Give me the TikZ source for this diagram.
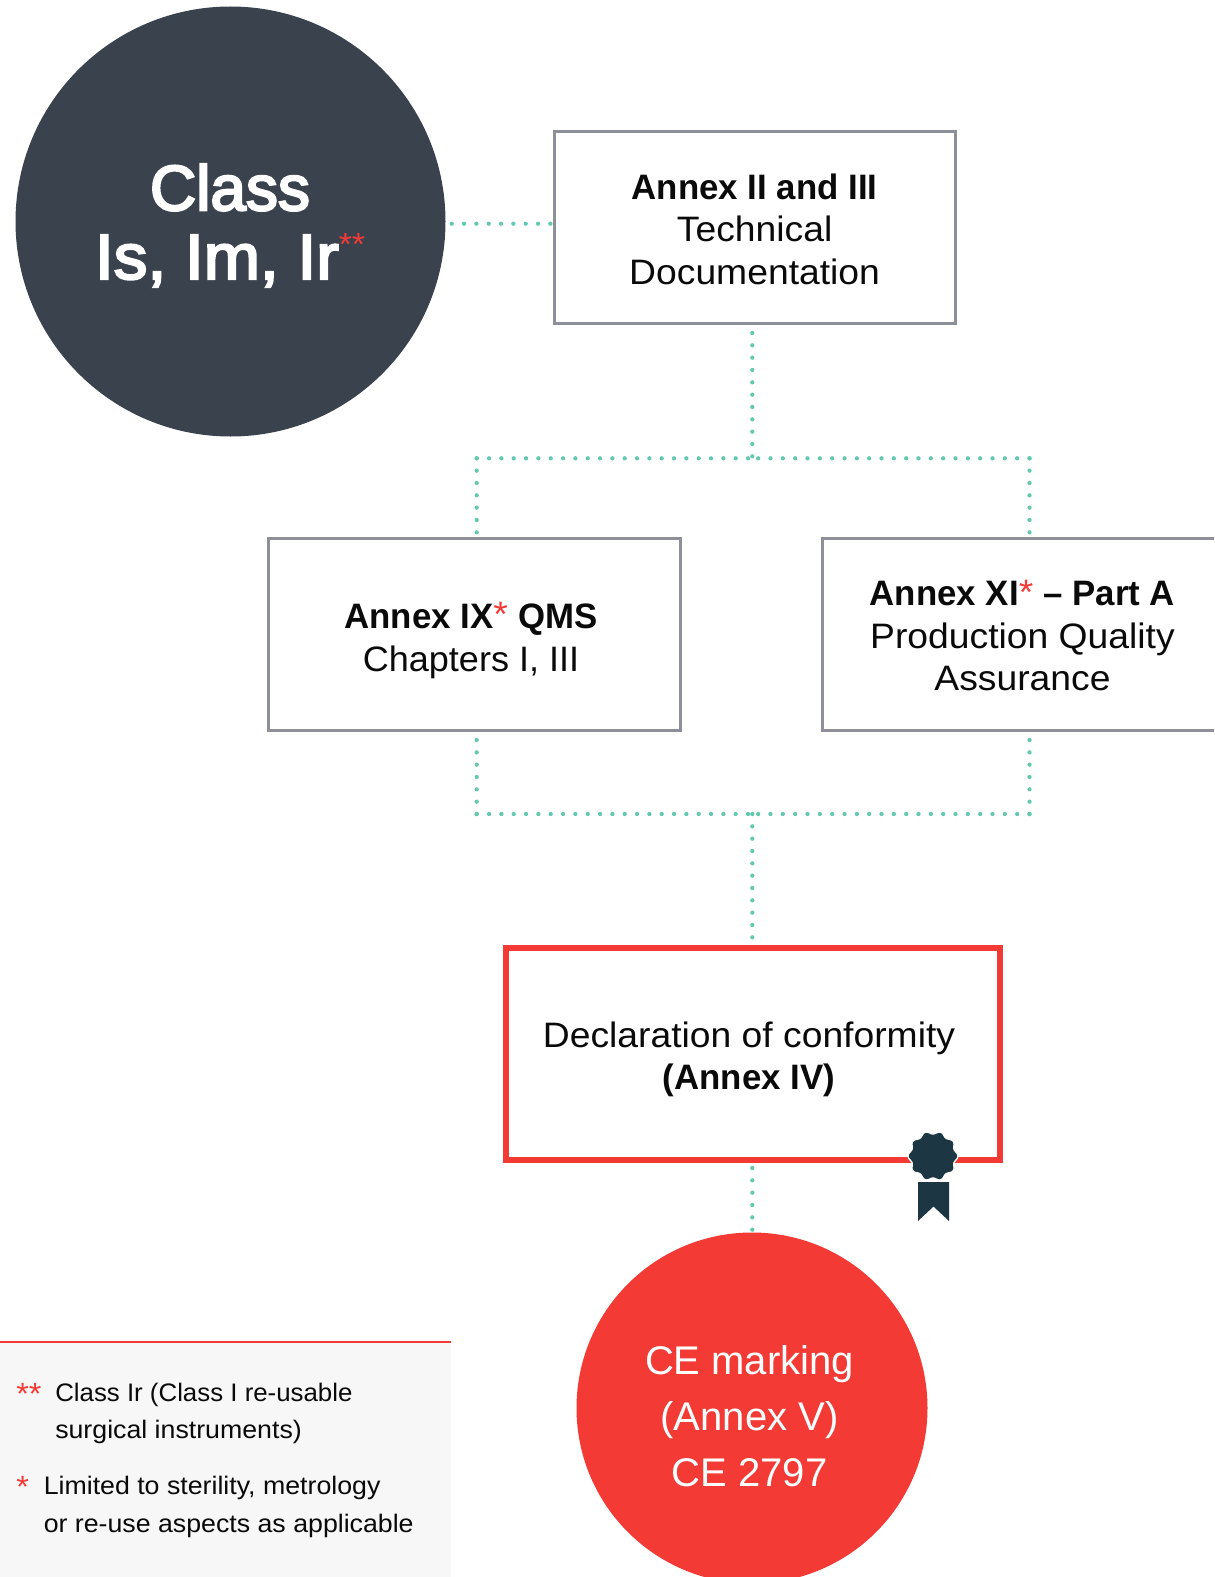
\documentclass[tikz,border=0pt]{standalone}
\usepackage{fontspec}
\setmainfont[FakeStretch=1.055,BoldFeatures={FakeStretch=0.985}]{Liberation Sans}
\newfontfamily\medfont[FakeBold=3.5]{Liberation Sans}
\newfontfamily\medfontw[FakeBold=3.5,FakeStretch=1.055]{Liberation Sans}
\newfontfamily\cefont[FakeStretch=1.0]{Liberation Sans}
\newfontfamily\narrowf[FakeStretch=1.02]{Liberation Sans}
\usetikzlibrary{calc}
\definecolor{slate}{HTML}{3A424E}
\definecolor{seal}{HTML}{1C3644}
\definecolor{cered}{HTML}{F33A35}
\definecolor{boxgray}{HTML}{8E9099}
\definecolor{dotgreen}{HTML}{62C9B0}
\definecolor{notebg}{HTML}{F7F7F7}
\definecolor{ink}{HTML}{0A0A0A}
\newcommand{\fsz}[2]{\fontsize{#1}{#2}\selectfont}
\newcommand{\redast}[1]{\textcolor{cered}{\raisebox{.05em}{#1}}}
\tikzset{
  x=0.75pt,y=-0.75pt,
  boxnode/.style={draw=boxgray,line width=2.25pt,fill=white,inner sep=0pt,outer sep=0pt,minimum width=#1*0.75pt},
  txt/.style={text=ink,align=center,inner sep=0pt,font=\fsz{26.5}{31.9}},
  note/.style={text=ink,align=left,inner sep=0pt,font=\fsz{19}{28}},
  notemark/.style={text=cered,inner sep=0pt,anchor=west,font=\fsz{23}{23}},
  dotline/.style={draw=dotgreen,line width=3.2pt,line cap=round,dash pattern=on 0pt off 9.25pt},
}
\begin{document}
\begin{tikzpicture}
\useasboundingbox (0,0) rectangle (1214,1577);
\clip (0,0) rectangle (1214,1577);
\fill[white] (0,0) rectangle (1214,1577);

% note panel
\fill[notebg] (0,1342) rectangle (451,1577);
\draw[cered,line width=0.9pt] (0,1342) -- (451,1342);

% shapes
\node[circle,fill=slate,inner sep=0pt,outer sep=0pt,minimum size=430*0.75pt] (classc) at (230.5,221.5) {};
\node[boxnode=401,minimum height=192.5*0.75pt] (box1) at (754.5,227.25) {};
\node[boxnode=412,minimum height=192*0.75pt] (box2) at (474,634) {};
\node[boxnode=500,minimum height=192*0.75pt] (box3) at (1072,634) {};
\node[draw=cered,line width=3.8pt,fill=white,inner sep=0pt,outer sep=0pt,minimum width=494*0.75pt,minimum height=212*0.75pt] (decl) at (753,1054) {};
\node[circle,fill=cered,inner sep=0pt,outer sep=0pt,minimum size=351*0.75pt] (ce) at (752,1408) {};

% junctions
\coordinate (jtop) at (752.3,458.3);
\coordinate (jtl) at (476.7,458.3);
\coordinate (jtr) at (1029.5,458.3);
\coordinate (jbot) at (752.3,814);
\coordinate (jbl) at (476.7,814);
\coordinate (jbr) at (1029.5,814);
\coordinate (s1) at (752.3,333);
\coordinate (s2) at (752.3,943);
\coordinate (s3) at (752.3,1168);
\coordinate (s4) at (752.3,1232);
\coordinate (a1) at (451.7,223.7);
\coordinate (a2) at (553,223.7);
\coordinate (l1) at (476.7,534);
\coordinate (r1) at (1029.5,537);
\coordinate (l2) at (476.7,734);
\coordinate (r2) at (1029.5,738);

% connectors
\draw[dotline] (a1) -- (a2);
\draw[dotline] (s1) -- (jtop);
\draw[dotline] (jtl) -- (jtop);
\draw[dotline] (jtl) -- (l1);
\draw[dotline] (jtr) -- (jtop);
\draw[dotline] (jtr) -- (r1);
\draw[dotline] (jbl) -- (l2);
\draw[dotline] (jbl) -- (jbot);
\draw[dotline] (jbr) -- (r2);
\draw[dotline] (jbr) -- (jbot);
\draw[dotline] (jbot) -- (s2);
\draw[dotline] (s3) -- (s4);

% labels
\node[text=white,align=center,inner sep=0pt,font=\medfont\fsz{48}{51.5}] (classt) at (230,225.5) {Class\\{\medfontw Is, Im, Ir}{\fsz{24}{24}\normalfont\textcolor{cered}{\raisebox{.72em}{**}}}};
\node[txt] (t1) at (754.6,229) {\textbf{Annex II and III}\\Technical\\Documentation};
\node[txt] (t2) at (471,640.5) {\textbf{Annex IX}\redast{*} \textbf{QMS}\\{\narrowf Chapters I, III}};
\node[txt] (t3) at (1022.5,635.5) {\textbf{Annex XI}\redast{*} \textbf{– Part A}\\Production Quality\\Assurance};
\node[txt] (t4) at (749,1059.5) {Declaration of conformity\\\textbf{(Annex IV)}};
\node[text=white,align=center,inner sep=0pt,font=\cefont\fsz{30}{42}] (t5) at (749.5,1416) {CE marking\\(Annex V)\\CE 2797};

% seal
\fill[seal] (918,1182) -- (949,1182) -- (949,1221) -- (933.5,1206.5) -- (918,1221) -- cycle;
\fill[seal,draw=white,line width=1pt] plot[smooth cycle,domain=0:357,samples=120] ({933+(23.5+1.5*cos(10*\x))*cos(\x)},{1156+(23.5+1.5*cos(10*\x))*sin(\x)});

% notes
\node[notemark] (n1a) at (16,1394) {**};
\node[note,anchor=west] (n1) at (55,1413.5) {{\narrowf Class Ir (Class I re-usable}\\surgical instruments)};
\node[notemark] (n2a) at (16,1487) {*};
\node[note,anchor=west] (n2) at (43.5,1507) {Limited to sterility, metrology\\or re-use aspects as applicable};
\end{tikzpicture}
\end{document}
